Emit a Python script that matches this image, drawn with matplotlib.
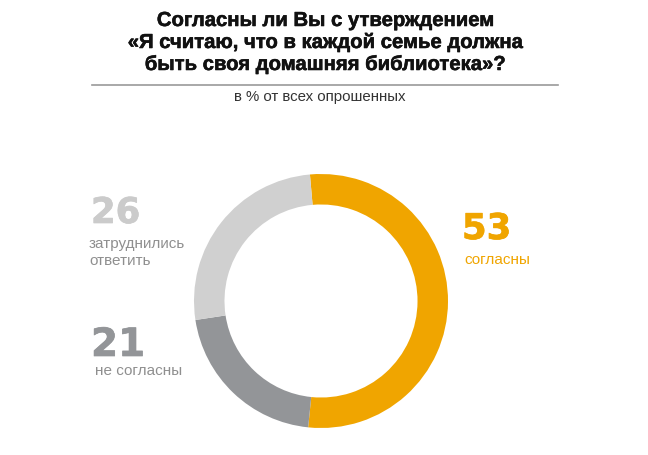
import matplotlib
matplotlib.use("Agg")
import matplotlib.pyplot as plt
import matplotlib.patheffects as pe

# Data
categories = ["согласны", "не согласны", "затруднились ответить"]
values = [53, 21, 26]
colors = ["#F0A500", "#939598", "#D0D0D0"]

title_lines = ["Согласны ли Вы с утверждением",
               "«Я считаю, что в каждой семье должна",
               "быть своя домашняя библиотека»?"]
subtitle = "в % от всех опрошенных"

W, H = 648, 456
fig = plt.figure(figsize=(W / 100, H / 100), dpi=100)
fig.patch.set_facecolor("white")


def px(x, y):
    return x / W, 1 - y / H


def heavy(color, lw=0.8):
    return [pe.withStroke(linewidth=lw, foreground=color)]


# Donut
cx, cy, r = 321, 302, 127
ax = fig.add_axes([(cx - r) / W, 1 - (cy + r) / H, 2 * r / W, 2 * r / H])
ax.pie(values, colors=colors, startangle=95, counterclock=False,
       wedgeprops=dict(width=0.24, linewidth=0), radius=1.0)
ax.set_aspect("equal")
ax.set_xlim(-1, 1)
ax.set_ylim(-1, 1)
ax.axis("off")

# Title
tfont = ["Liberation Sans", "DejaVu Sans"]
for line, yb in zip(title_lines, [27, 49, 71]):
    fig.text(*px(325, yb), line, ha="center", va="baseline", fontsize=14.6,
             fontweight="bold", family=tfont, color="#111111",
             path_effects=heavy("#111111", 0.4))

# Rule under the title
fig.add_artist(plt.Line2D([92 / W, 558 / W], [1 - 85.7 / H, 1 - 85.7 / H],
                          color="#9a9a9a", linewidth=1.2))

fig.text(*px(320, 101), subtitle, ha="center", va="baseline", fontsize=10.8,
         family=tfont, color="#333333")

# Labels
numfont = ["DejaVu Sans"]
lab_font = ["Liberation Sans", "DejaVu Sans"]

# 53 согласны
fig.text(*px(462, 240), str(values[0]), ha="left", va="baseline", fontsize=25.5,
         fontweight="bold", family=numfont, color=colors[0],
         path_effects=heavy(colors[0], 0.5))
fig.text(*px(464, 264), categories[0], ha="left", va="baseline", fontsize=11,
         family=lab_font, color="#F0A500")

# 26 затруднились ответить
fig.text(*px(91, 224), str(values[2]), ha="left", va="baseline", fontsize=25.5,
         fontweight="bold", family=numfont, color="#CBCBCB",
         path_effects=heavy("#CBCBCB", 0.5))
fig.text(*px(89, 248), "затруднились", ha="left", va="baseline", fontsize=11,
         family=lab_font, color="#8f8f8f")
fig.text(*px(89, 265), "ответить", ha="left", va="baseline", fontsize=11,
         family=lab_font, color="#8f8f8f")

# 21 не согласны
fig.text(*px(91, 357), str(values[1]), ha="left", va="baseline", fontsize=28,
         fontweight="bold", family=numfont, color=colors[1],
         path_effects=heavy(colors[1], 0.5))
fig.text(*px(95, 375), categories[1], ha="left", va="baseline", fontsize=11,
         family=lab_font, color="#8f8f8f")

fig.savefig("out.png", dpi=100, facecolor="white")
